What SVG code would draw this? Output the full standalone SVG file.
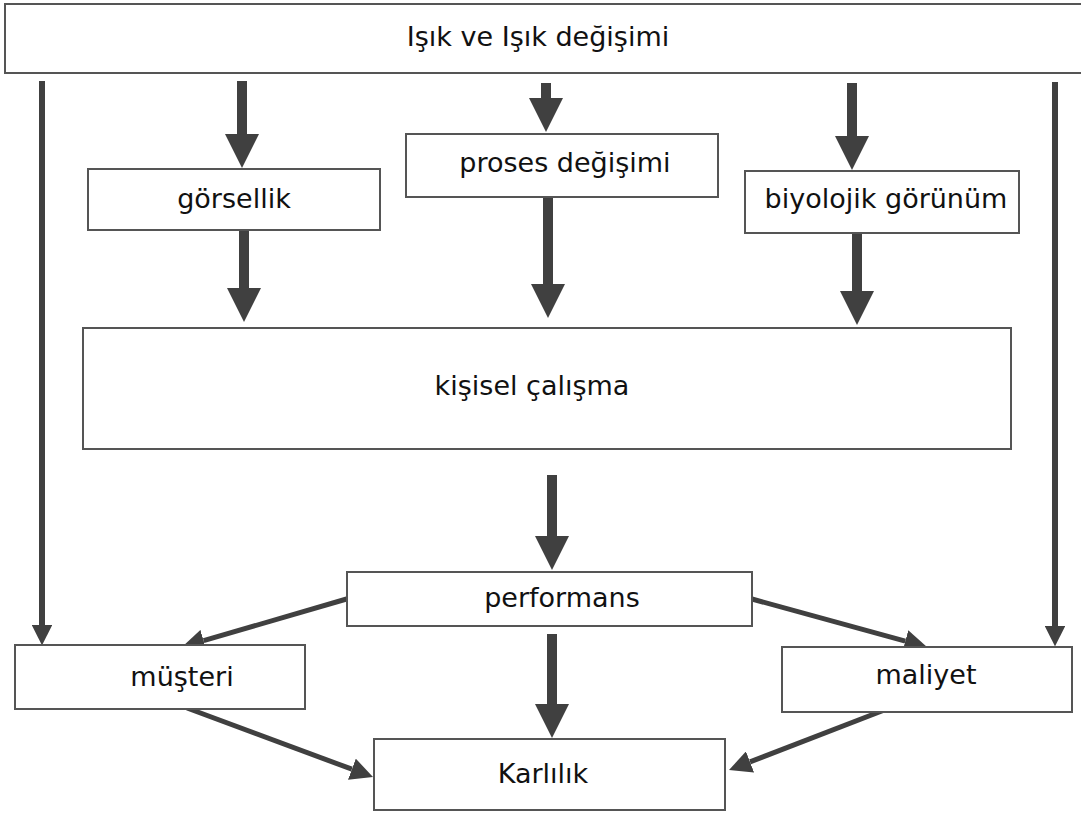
<svg xmlns="http://www.w3.org/2000/svg" width="1081" height="814" viewBox="0 0 1081 814">
<style>
.box{fill:#fff;stroke:#555;stroke-width:2}
.lbl{font-family:"DejaVu Sans",Verdana,sans-serif;font-size:27px;fill:#111;text-anchor:middle}
.thick{stroke:#404040;stroke-width:10;fill:none;marker-end:url(#head)}
.thin{stroke:#404040;stroke-width:6;fill:none;marker-end:url(#head)}
.diag{stroke:#404040;stroke-width:5;fill:none;marker-end:url(#headd)}
</style>
<defs>
<marker id="head" viewBox="0 0 10 10" refX="0" refY="5" markerWidth="3.4" markerHeight="3.4" markerUnits="strokeWidth" orient="auto">
<path d="M0,0 L10,5 L0,10 z" fill="#404040"/>
</marker>
<marker id="headd" viewBox="0 0 10 10" refX="0" refY="5" markerWidth="4.5" markerHeight="4.5" markerUnits="strokeWidth" orient="auto">
<path d="M0,0 L10,5 L0,10 z" fill="#404040"/>
</marker>
</defs>
<rect width="1081" height="814" fill="#fff"/>
<g id="connectors">
<path class="thick" d="M242,81 V134"/>
<path class="thick" d="M546,83 V98"/>
<path class="thick" d="M852,83 V136"/>
<path class="thick" d="M244,231 V288"/>
<path class="thick" d="M548,198 V284"/>
<path class="thick" d="M857,234 V291"/>
<path class="thick" d="M552,475 V536"/>
<path class="thick" d="M552,634 V704"/>
<path class="thin" d="M42,81 V625"/>
<path class="thin" d="M1055,82 V626"/>
<path class="diag" d="M350,598 L203.6,640.7"/>
<path class="diag" d="M187,708 L351.9,769.2"/>
<path class="diag" d="M752,599 L905.3,641.1"/>
<path class="diag" d="M887,709 L750,761.9"/>
</g>
<g id="n-isik"><rect class="box" x="5" y="4" width="1085" height="69"/><text class="lbl" x="538" y="46">Işık ve Işık değişimi</text></g>
<g id="n-gorsellik"><rect class="box" x="88" y="169" width="292" height="61"/><text class="lbl" x="234" y="208">görsellik</text></g>
<g id="n-proses"><rect class="box" x="406" y="134" width="312" height="63"/><text class="lbl" x="565" y="172">proses değişimi</text></g>
<g id="n-biyolojik"><rect class="box" x="745" y="171" width="274" height="62"/><text class="lbl" x="886" y="208">biyolojik görünüm</text></g>
<g id="n-kisisel"><rect class="box" x="83" y="328" width="928" height="121"/><text class="lbl" x="532" y="395">kişisel çalışma</text></g>
<g id="n-performans"><rect class="box" x="347" y="572" width="405" height="54"/><text class="lbl" x="562" y="607">performans</text></g>
<g id="n-musteri"><rect class="box" x="15" y="645" width="290" height="64"/><text class="lbl" x="182" y="686">müşteri</text></g>
<g id="n-maliyet"><rect class="box" x="782" y="647" width="290" height="65"/><text class="lbl" x="926" y="684">maliyet</text></g>
<g id="n-karlilik"><rect class="box" x="374" y="739" width="351" height="71"/><text class="lbl" x="543" y="783">Karlılık</text></g>
</svg>
